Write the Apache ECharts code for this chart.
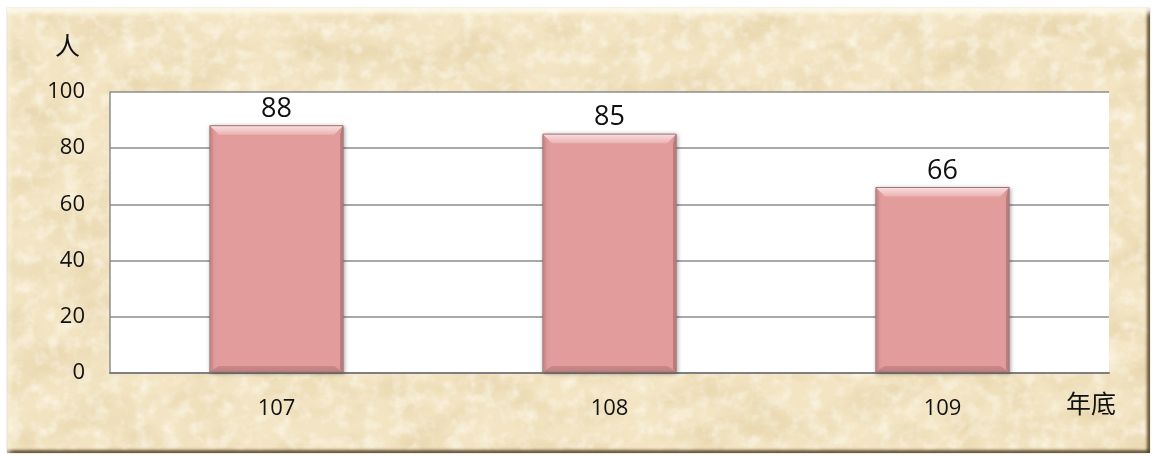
<!DOCTYPE html>
<html>
<head>
<meta charset="utf-8">
<script src="https://cdn.jsdelivr.net/npm/echarts@6/dist/echarts.min.js"></script>
<style>
  html, body { margin: 0; padding: 0; background: #ffffff; }
  #wrap { position: relative; width: 1156px; height: 457px; overflow: hidden; background: #ffffff; }
  #frame {
    position: absolute; left: 7px; top: 8px; width: 1143px; height: 445px;
    background-color: #f3e5c4;
    box-shadow:
      inset 0 8px 5px -3px rgba(255, 252, 235, 0.9),
      inset 6px 0 5px -3px rgba(255, 250, 230, 0.6),
      inset -4px 0 3px -1px rgba(70, 50, 20, 0.8),
      inset 0 -4px 3px -1px rgba(70, 50, 20, 0.8),
      0 0 1px rgba(120, 100, 70, 0.6);
  }
  #chart { position: absolute; left: 0; top: 0; width: 1156px; height: 457px; }
</style>
</head>
<body>
<div id="wrap">
  <div id="frame"></div>
  <div id="chart"></div>
</div>
<script>
// Year-end headcount
const years = ['107', '108', '109'];
const counts = [88, 85, 66];
const yTicks = [0, 20, 40, 60, 80, 100];
const yUnit = '人';
const xUnit = '年底';

// Parchment texture for the frame
(function () {
  const svg =
    "<svg xmlns='http://www.w3.org/2000/svg' width='1143' height='445'>" +
    "<filter id='n' x='0' y='0' width='100%' height='100%'>" +
    "<feTurbulence type='fractalNoise' baseFrequency='0.018 0.03' numOctaves='5' seed='7'/>" +
    "<feColorMatrix values='0 0 0 0 0.66  0 0 0 0 0.5  0 0 0 0 0.24  0 0 0 1.5 -0.6'/>" +
    "</filter>" +
    "<filter id='m' x='0' y='0' width='100%' height='100%'>" +
    "<feTurbulence type='fractalNoise' baseFrequency='0.07' numOctaves='3' seed='2'/>" +
    "<feColorMatrix values='0 0 0 0 1  0 0 0 0 0.98  0 0 0 0 0.9  0 0 0 1.8 -0.8'/>" +
    "</filter>" +
    "<rect width='100%' height='100%' fill='#f3e5c4'/>" +
    "<rect width='100%' height='100%' filter='url(#n)' opacity='0.5'/>" +
    "<rect width='100%' height='100%' filter='url(#m)' opacity='0.75'/>" +
    "</svg>";
  document.getElementById('frame').style.backgroundImage =
    'url("data:image/svg+xml;charset=utf-8,' + encodeURIComponent(svg) + '")';
})();

const chart = echarts.init(document.getElementById('chart'), null, { renderer: 'canvas' });

const BAR_RATIO = 0.4;
const BEVEL = 9;

function renderBar(params, api) {
  const cat = api.value(0);
  const val = api.value(1);
  const top = api.coord([cat, val]);
  const base = api.coord([cat, 0]);
  const w = api.size([1, 0])[0] * BAR_RATIO;
  const l = top[0] - w / 2, r = top[0] + w / 2;
  const t = top[1], b = base[1] - 1;
  const h = b - t;
  const bv = Math.min(BEVEL, h / 3);
  const sv = 3;
  return {
    type: 'group',
    children: [
      {
        type: 'rect',
        shape: { x: l, y: t, width: w, height: h },
        style: {
          fill: '#e39c9c',
          stroke: '#9c7474',
          lineWidth: 1,
          shadowBlur: 4,
          shadowColor: 'rgba(0,0,0,0.35)',
          shadowOffsetX: 1,
          shadowOffsetY: 1
        }
      },
      {
        type: 'polygon',
        shape: { points: [[l + 0.5, t + 0.5], [r - 0.5, t + 0.5], [r - bv, t + bv], [l + bv, t + bv]] },
        style: {
          fill: new echarts.graphic.LinearGradient(0, 0, 0, 1, [
            { offset: 0, color: '#f8dcdc' },
            { offset: 1, color: '#ebb2b2' }
          ])
        }
      },
      {
        type: 'polygon',
        shape: { points: [[l + 0.5, t + 0.5], [l + sv, t + bv], [l + sv, b - sv], [l + 0.5, b - 0.5]] },
        style: { fill: 'rgba(190,120,120,0.35)' }
      },
      {
        type: 'polygon',
        shape: { points: [[r - 0.5, t + 0.5], [r - sv, t + bv], [r - sv, b - sv], [r - 0.5, b - 0.5]] },
        style: { fill: 'rgba(140,90,90,0.45)' }
      },
      {
        type: 'polygon',
        shape: { points: [[l + 0.5, b - 0.5], [r - 0.5, b - 0.5], [r - bv, b - bv + 3], [l + bv, b - bv + 3]] },
        style: { fill: 'rgba(150,95,95,0.35)' }
      },
      {
        type: 'text',
        x: top[0],
        y: t - 3,
        style: {
          text: String(val),
          fill: '#111111',
          font: '27px "Open Sans", "Noto Sans", sans-serif',
          align: 'center',
          verticalAlign: 'bottom'
        }
      }
    ]
  };
}

chart.setOption({
  animation: false,
  backgroundColor: 'transparent',
  grid: {
    left: 110, right: 47, top: 92, bottom: 84,
    show: true, backgroundColor: '#ffffff', borderWidth: 0,
    outerBoundsMode: 'none', containLabel: false
  },
  xAxis: {
    type: 'category',
    data: years,
    axisTick: { show: false },
    axisLine: { show: true, lineStyle: { color: '#7f7f7f', width: 2 } },
    axisLabel: {
      margin: 25,
      color: '#111111',
      fontSize: 22,
      fontFamily: '"Open Sans", "Noto Sans", sans-serif'
    },
    splitLine: { show: false }
  },
  yAxis: {
    type: 'value',
    min: yTicks[0],
    max: yTicks[yTicks.length - 1],
    interval: yTicks[1] - yTicks[0],
    axisTick: { show: false },
    axisLine: { show: true, lineStyle: { color: '#8c8c8c', width: 1.5 } },
    axisLabel: {
      margin: 25,
      color: '#111111',
      fontSize: 22,
      fontFamily: '"Open Sans", "Noto Sans", sans-serif'
    },
    splitLine: { show: true, lineStyle: { color: '#8c8c8c', width: 1.5 } }
  },
  series: [{
    type: 'custom',
    renderItem: renderBar,
    encode: { x: 0, y: 1 },
    data: years.map((y, i) => [i, counts[i]]),
    clip: false
  }],
  graphic: [
    {
      type: 'text', left: 55, top: 33,
      style: { text: yUnit, fill: '#111111', font: '25px "Noto Sans CJK TC", sans-serif' }
    },
    {
      type: 'text', left: 1066, top: 391,
      style: { text: xUnit, fill: '#111111', font: '25px "Noto Sans CJK TC", sans-serif' }
    }
  ]
});
</script>
</body>
</html>
